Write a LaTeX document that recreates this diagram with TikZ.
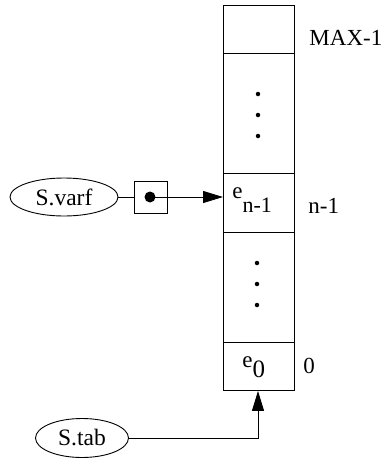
\documentclass[tikz,border=0pt]{standalone}
\usepackage{fontspec}
\setmainfont{Liberation Serif}
\usetikzlibrary{shapes.geometric,arrows.meta}
\begin{document}
\begin{tikzpicture}[x=1pt,y=-1pt, line width=0.9pt,
  cell/.style={draw, minimum width=71pt, inner sep=0pt, anchor=north west},
  lbl/.style={font=\fontsize{23}{27}\selectfont, inner sep=0pt},
  oval/.style={draw, ellipse, inner sep=0pt, font=\fontsize{23.5}{27}\selectfont},
  tip/.style={-{Triangle[length=20pt,width=12pt]}},
  dotmark/.style={fill, circle, inner sep=0pt, minimum size=4.5pt}]
\useasboundingbox (0,0) rectangle (382,459);
% column cells
\node[cell, minimum height=48pt] (c4) at (223,5) {};
\node[cell, minimum height=120pt] (c3) at (223,53) {};
\node[cell, minimum height=59pt] (c2) at (223,173) {};
\node[cell, minimum height=110pt] (c1) at (223,232) {};
\node[cell, minimum height=48pt] (c0) at (223,342) {};
% dots
\node[dotmark] (d1) at (258,94) {};
\node[dotmark] (d2) at (258,115) {};
\node[dotmark] (d3) at (258,136) {};
\node[dotmark] (d4) at (257,263) {};
\node[dotmark] (d5) at (257,284) {};
\node[dotmark] (d6) at (257,305) {};
% cell contents
\node[lbl, anchor=base west] (en) at (232,198) {e\raisebox{-14pt}{\fontsize{22}{25}\selectfont n-1}};
\node[lbl, anchor=base west] (e0) at (242,367) {e\raisebox{-10pt}{\fontsize{25}{28}\selectfont 0}};
% index labels
\node[lbl, anchor=base west] (lmax) at (309,45) {MAX-1};
\node[lbl, anchor=base west] (lnm) at (308,213) {n-1};
\node[lbl, anchor=base west] (lz) at (303,373) {0};
% S.varf
\node[oval, minimum width=108pt, minimum height=38pt] (varf) at (64,197) {S.varf};
\node[draw, minimum width=33pt, minimum height=32pt, inner sep=0pt] (box) at (151,197) {};
\node[dotmark, minimum size=11pt] (ptr) at (150,197) {};
\coordinate (tgt) at (c2.west |- ptr);
\draw (varf.east) -- (box.west);
\draw[tip] (ptr.center) -- (tgt);
% S.tab
\node[oval, minimum width=93pt, minimum height=39pt] (tab) at (82,438) {S.tab};
\coordinate (bend) at (258,438);
\draw[tip] (tab.east) -- (bend) -- (bend |- c0.south);
\end{tikzpicture}
\end{document}
